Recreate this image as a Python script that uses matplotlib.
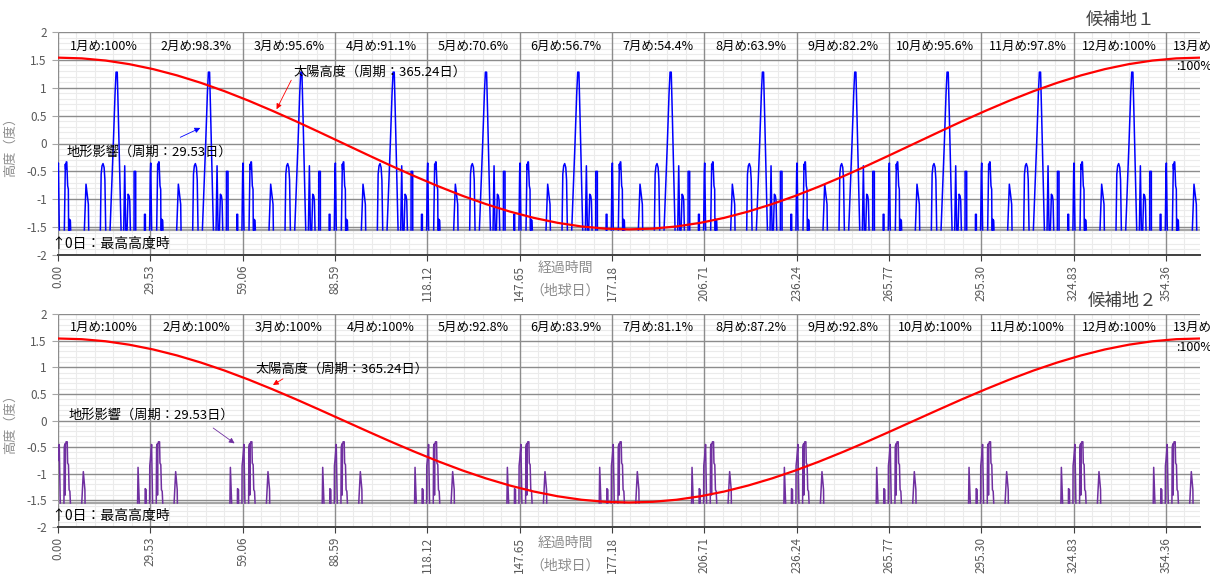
import numpy as np
import matplotlib
matplotlib.use("Agg")
import matplotlib.pyplot as plt
from matplotlib.ticker import MultipleLocator, FormatStrFormatter, FuncFormatter

plt.rcParams["font.family"] = ["Noto Sans CJK JP", "DejaVu Sans"]

PERIOD = 29.53
YEAR = 365.24
F = -1.55  # floor of the terrain series

# sun altitude, one sample every ~7.6 days over one year
sun_alt = [1.540, 1.527, 1.488, 1.423, 1.334, 1.222, 1.089, 0.938, 0.770, 0.589, 0.399, 0.201, 0.000,
           -0.201, -0.399, -0.589, -0.770, -0.938, -1.089, -1.222, -1.334, -1.423, -1.488, -1.527, -1.540,
           -1.527, -1.488, -1.423, -1.334, -1.222, -1.089, -0.938, -0.770, -0.589, -0.399, -0.201, 0.000,
           0.201, 0.399, 0.589, 0.770, 0.938, 1.089, 1.222, 1.334, 1.423, 1.488, 1.527, 1.540]

# terrain profile over one lunar period (repeats every 29.53 days), None = gap
terrain1_day = [0.0, 0.12, 0.42, None,
                2.03, 2.35, 2.45, 2.65, 2.8, 2.99, 3.09, 3.31, 3.4, None,
                3.62, 3.65, 3.95, 4.05, None,
                8.43, 8.96, 9.28, 9.71, 9.82, None,
                13.55, 13.8, 14.08, 14.4, 14.75, 15.0, 15.26, None,
                16.65, 17.7, 18.25, 18.57, 18.95, 19.3, 19.84, 20.17, None,
                21.02, 21.34, 21.66, None,
                22.09, 22.41, 22.73, 22.95, 23.15, None,
                24.32, 24.34, 24.85, 24.87, None,
                27.64, 27.66, 27.94, 27.96, None,
                29.3, 29.53]
terrain1_alt = [-0.5, -0.35, F, None,
                F, -0.37, -0.46, -0.33, -0.33, -0.61, -0.76, -0.82, F, None,
                F, -1.36, -1.38, F, None,
                F, -0.73, -0.88, -1.09, F, None,
                F, -0.55, -0.4, -0.36, -0.43, -0.65, F, None,
                F, 0.0, 0.9, 1.28, 1.28, 0.5, -0.8, F, None,
                F, -0.4, F, None,
                F, -0.91, -0.94, -1.03, F, None,
                F, -0.5, -0.5, F, None,
                F, -1.27, -1.27, F, None,
                F, -0.5]

terrain2_day = [0.0, 0.4, 0.72, None,
                1.9, 2.0, 2.2, 2.3, 2.4, 2.6, 2.95, 3.08, 3.35, 3.55, 3.8, 3.97, None,
                7.6, 8.1, 8.6, 8.65, None,
                25.45, 25.6, 26.0, None,
                27.85, 27.88, 28.2, 28.23, None,
                29.3, 29.35, 29.53]
terrain2_alt = [-0.75, -0.45, F, None,
                F, -0.5, -0.44, -1.4, -0.45, -0.4, -0.4, -0.8, -0.83, -1.3, -1.33, F, None,
                F, -0.96, -1.3, F, None,
                F, -0.88, F, None,
                F, -1.28, -1.3, F, None,
                F, -0.85, -0.75]

pct1 = ["100%", "98.3%", "95.6%", "91.1%", "70.6%", "56.7%", "54.4%", "63.9%",
        "82.2%", "95.6%", "97.8%", "100%", "100%"]
pct2 = ["100%", "100%", "100%", "100%", "92.8%", "83.9%", "81.1%", "87.2%",
        "92.8%", "100%", "100%", "100%", "100%"]


def tile(day, alt):
    d = np.array(day, dtype=float)
    a = np.array(alt, dtype=float)
    xs = np.concatenate([d + k * PERIOD for k in range(13)])
    ys = np.concatenate([a for k in range(13)])
    return xs, ys


def ylab(v, pos):
    v = round(v, 2)
    return "0" if v == 0 else f"{v:g}"


def draw_panel(ax, t_day, t_alt, color, pct, sun_txt, sun_arrow, ter_txt, ter_arrow, xl_y):
    ax.set_xlim(0, YEAR)
    ax.set_ylim(-2, 2)
    ax.xaxis.set_major_locator(MultipleLocator(PERIOD))
    ax.xaxis.set_minor_locator(MultipleLocator(PERIOD / 5))
    ax.xaxis.set_major_formatter(FormatStrFormatter("%.2f"))
    ax.yaxis.set_major_locator(MultipleLocator(0.5))
    ax.yaxis.set_minor_locator(MultipleLocator(0.1))
    ax.yaxis.set_major_formatter(FuncFormatter(ylab))

    # minor grid first, then major grid on top of it
    ax.vlines(ax.xaxis.get_minorticklocs(), -2, 2, color="#EBEBEB", lw=0.8, zorder=0.2)
    ax.hlines(ax.yaxis.get_minorticklocs(), 0, YEAR, color="#EBEBEB", lw=0.8, zorder=0.2)
    ax.vlines(ax.xaxis.get_majorticklocs(), -2, 2, color="#8C8C8C", lw=1.0, zorder=0.5)
    ax.hlines(ax.yaxis.get_majorticklocs(), 0, YEAR, color="#8C8C8C", lw=1.0, zorder=0.5)
    ax.set_xlim(0, YEAR)
    ax.set_ylim(-2, 2)

    for s in ["left", "right", "top"]:
        ax.spines[s].set_visible(False)
    ax.spines["bottom"].set_color("#404040")
    ax.spines["bottom"].set_linewidth(1.4)
    ax.tick_params(which="minor", length=0)
    ax.tick_params(axis="x", which="major", length=4, color="#404040", labelsize=8.5,
                   labelcolor="#595959", labelrotation=90, pad=3)
    ax.tick_params(axis="y", which="major", length=4, color="#A6A6A6", labelsize=8.5,
                   labelcolor="#595959", pad=4)

    ax.axhline(F, color="#A6A6A6", lw=1.6, zorder=2)
    xs, ys = tile(t_day, t_alt)
    ax.plot(xs, ys, color=color, lw=1.1, zorder=3)
    sun_day = np.linspace(0, YEAR, len(sun_alt))
    ax.plot(sun_day, sun_alt, color="#FF0000", lw=1.6, zorder=4)

    for k, p in enumerate(pct[:12]):
        ax.text((k + 0.5) * PERIOD, 1.74, f"{k + 1}月め:{p}", ha="center", va="center", fontsize=9)
    ax.text(356.6, 1.74, "13月め", ha="left", va="center", fontsize=9, clip_on=False)
    ax.text(357.6, 1.38, ":" + pct[12], ha="left", va="center", fontsize=9, clip_on=False)

    ax.text(sun_txt[0], sun_txt[1], "太陽高度（周期：365.24日）", ha="left", va="center", fontsize=9.5)
    ax.annotate("", xy=sun_arrow[1], xytext=sun_arrow[0],
                arrowprops=dict(arrowstyle="-|>", color="#FF0000", lw=0.6, mutation_scale=8))
    ax.text(ter_txt[0], ter_txt[1], "地形影響（周期：29.53日）", ha="left", va="center", fontsize=9.5)
    ax.annotate("", xy=ter_arrow[1], xytext=ter_arrow[0],
                arrowprops=dict(arrowstyle="-|>", color=color, lw=0.6, mutation_scale=8))

    ax.text(-2.1, -1.8, "↑0日：最高高度時", ha="left", va="center", fontsize=10, clip_on=False)

    ax.set_ylabel("高度（度）", color="#8C8C8C", fontsize=9.5)
    ax.yaxis.set_label_coords(-0.036, 0.5)
    ax.text(0.444, xl_y[0], "経過時間", transform=ax.transAxes, ha="center", va="center",
            fontsize=10, color="#8C8C8C")
    ax.text(0.444, xl_y[1], "（地球日）", transform=ax.transAxes, ha="center", va="center",
            fontsize=10, color="#8C8C8C")


fig = plt.figure(figsize=(12.1, 5.77), dpi=100)
ax1 = fig.add_axes([58 / 1210, 1 - 255 / 577, 1142 / 1210, 223 / 577])
ax2 = fig.add_axes([58 / 1210, 1 - 527 / 577, 1142 / 1210, 213 / 577])

draw_panel(ax1, terrain1_day, terrain1_alt, "#0000FF", pct1,
           (75.3, 1.28), ((75.0, 1.18), (69.5, 0.57)),
           (2.8, -0.165), ((38.3, 0.09), (46.3, 0.30)), (-0.058, -0.161))
draw_panel(ax2, terrain2_day, terrain2_alt, "#7030A0", pct2,
           (63.3, 0.96), ((72.7, 0.81), (68.0, 0.64)),
           (3.3, 0.10), ((48.9, -0.11), (57.2, -0.46)), (-0.075, -0.183))

fig.text(1120 / 1210, 1 - 20 / 577, "候補地１", ha="center", va="center", fontsize=12.5, color="#404040")
fig.text(1122 / 1210, 1 - 301 / 577, "候補地２", ha="center", va="center", fontsize=12.5, color="#404040")

fig.savefig("out.png", dpi=100)
